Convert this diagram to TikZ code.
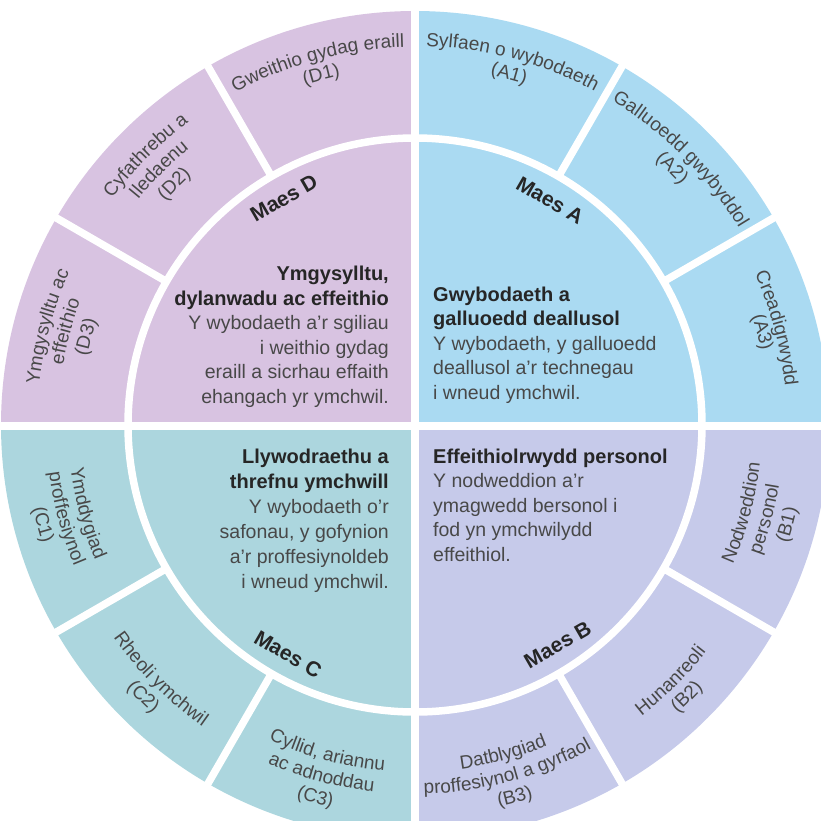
\documentclass[tikz,border=0pt]{standalone}
\usepackage{fontspec}
\setmainfont{Liberation Sans}
\usetikzlibrary{decorations.text}
\definecolor{colD}{RGB}{216,195,225}
\definecolor{colA}{RGB}{170,218,242}
\definecolor{colB}{RGB}{198,202,234}
\definecolor{colC}{RGB}{172,214,222}
\definecolor{txt}{RGB}{72,72,72}
\definecolor{hd}{RGB}{38,38,38}
\newcommand\otf{\fontsize{19}{21}\selectfont}
\newcommand\btf{\fontsize{19.5}{24}\selectfont}
\newcommand\htf{\fontsize{20}{24}\selectfont\bfseries}
\newcommand\mtf{\fontsize{21}{24}\selectfont\bfseries}
% text on an arc, top half (clockwise, letters face outward)
\newcommand\arcT[3]{%
  \pgfmathsetmacro\arcsa{#1+30}\pgfmathsetmacro\arcea{#1-30}%
  \path[decorate,decoration={text along path,text align=center,text color=txt,text={|\otf|#3}}]
    (\arcsa:#2) arc[start angle=\arcsa,end angle=\arcea,radius=#2];}
% text on an arc, bottom half (counter-clockwise, letters face the centre)
\newcommand\arcB[3]{%
  \pgfmathsetmacro\arcsa{#1-30}\pgfmathsetmacro\arcea{#1+30}%
  \path[decorate,decoration={text along path,text align=center,text color=txt,text={|\otf|#3}}]
    (\arcsa:#2) arc[start angle=\arcsa,end angle=\arcea,radius=#2];}
\begin{document}
\begin{tikzpicture}[x=1pt,y=1pt,
  sep/.style={white,line width=7.5pt},
  bodyl/.style={inner sep=0pt,font=\btf,text=txt},
  headl/.style={inner sep=0pt,font=\htf,text=hd},
  maes/.style={inner sep=0pt,font=\mtf,text=hd}]
\useasboundingbox (-415,-395) rectangle (406,425);
\begin{scope}
\clip (-415,-395) rectangle (406,425);
% quadrants
\fill[colA] (0,0) -- (0:414) arc[start angle=0,end angle=90,radius=414] -- cycle;
\fill[colD] (0,0) -- (90:414) arc[start angle=90,end angle=180,radius=414] -- cycle;
\fill[colC] (0,0) -- (180:414) arc[start angle=180,end angle=270,radius=414] -- cycle;
\fill[colB] (0,0) -- (270:414) arc[start angle=270,end angle=360,radius=414] -- cycle;
% white separators
\draw[sep] (0,0) circle[radius=287];
\draw[sep] (-420,-1) -- (420,-1);
\draw[sep] (0,-420) -- (0,420);
\foreach \a in {30,60,120,150,210,240,300,330}
  \draw[sep] (\a:287) -- (\a:430);
\end{scope}
% Maes labels
\node[maes,rotate=-30] (mA) at (59:262) {Maes A};
\node[maes,rotate=30]  (mD) at (120:262) {Maes D};
\node[maes,rotate=-30] (mC) at (241:262) {Maes C};
\node[maes,rotate=30]  (mB) at (303:262) {Maes B};
% D inner text
\node[headl,anchor=base east] (d1) at (-26,144.5) {Ymgysylltu,};
\node[headl,anchor=base east] (d2) at (-26,120) {dylanwadu ac effeithio};
\node[bodyl,anchor=base east] (d3) at (-26,95.5) {Y wybodaeth a’r sgiliau};
\node[bodyl,anchor=base east] (d4) at (-26,71) {i weithio gydag};
\node[bodyl,anchor=base east] (d5) at (-26,46.5) {eraill a sicrhau effaith};
\node[bodyl,anchor=base east] (d6) at (-26,22) {ehangach yr ymchwil.};
% A inner text
\node[headl,anchor=base west] (a1) at (18,124) {Gwybodaeth a};
\node[headl,anchor=base west] (a2) at (18,99.5) {galluoedd deallusol};
\node[bodyl,anchor=base west] (a3) at (18,75) {Y wybodaeth, y galluoedd};
\node[bodyl,anchor=base west] (a4) at (18,50.5) {deallusol a’r technegau};
\node[bodyl,anchor=base west] (a5) at (18,26) {i wneud ymchwil.};
% C inner text
\node[headl,anchor=base east] (c1) at (-26,-38) {Llywodraethu a};
\node[headl,anchor=base east] (c2) at (-26,-63) {threfnu ymchwill};
\node[bodyl,anchor=base east] (c3) at (-26,-88) {Y wybodaeth o’r};
\node[bodyl,anchor=base east] (c4) at (-26,-113) {safonau, y gofynion};
\node[bodyl,anchor=base east] (c5) at (-26,-138) {a’r proffesiynoldeb};
\node[bodyl,anchor=base east] (c6) at (-26,-163) {i wneud ymchwil.};
% B inner text
\node[headl,anchor=base west] (b1) at (18,-38) {Effeithiolrwydd personol};
\node[bodyl,anchor=base west] (b2) at (18,-62.5) {Y nodweddion a’r};
\node[bodyl,anchor=base west] (b3) at (18,-87) {ymagwedd bersonol i};
\node[bodyl,anchor=base west] (b4) at (18,-111.5) {fod yn ymchwilydd};
\node[bodyl,anchor=base west] (b5) at (18,-136) {effeithiol.};
% outer ring labels, top half
\arcT{105}{378}{Gweithio gydag eraill}
\arcT{105}{357}{(D1)}
\arcT{135}{378}{Cyfathrebu a}
\arcT{135}{357}{lledaenu}
\arcT{135}{335}{(D2)}
\arcT{165}{378}{Ymgysylltu ac}
\arcT{165}{357}{effeithio}
\arcT{165}{335}{(D3)}
\arcT{75}{379}{Sylfaen o wybodaeth}
\arcT{75}{358}{(A1)}
\arcT{45}{379}{Galluoedd gwybyddol}
\arcT{45}{358}{(A2)}
\arcT{15}{372}{Creadigrwydd}
\arcT{15}{354}{(A3)}
% outer ring labels, bottom half
\arcB{345}{347}{Nodweddion}
\arcB{345}{369}{personol}
\arcB{345}{391}{(B1)}
\arcB{315}{369}{Hunanreoli}
\arcB{315}{390}{(B2)}
\arcB{285}{347}{Datblygiad}
\arcB{285}{369}{proffesiynol a gyrfaol}
\arcB{285}{391}{(B3)}
\arcB{195}{347}{Ymddygiad}
\arcB{195}{369}{proffesiynol}
\arcB{195}{391}{(C1)}
\arcB{225}{369}{Rheoli ymchwil}
\arcB{225}{390}{(C2)}
\arcB{255}{347}{Cyllid, ariannu}
\arcB{255}{369}{ac adnoddau}
\arcB{255}{391}{(C3)}
\end{tikzpicture}
\end{document}
